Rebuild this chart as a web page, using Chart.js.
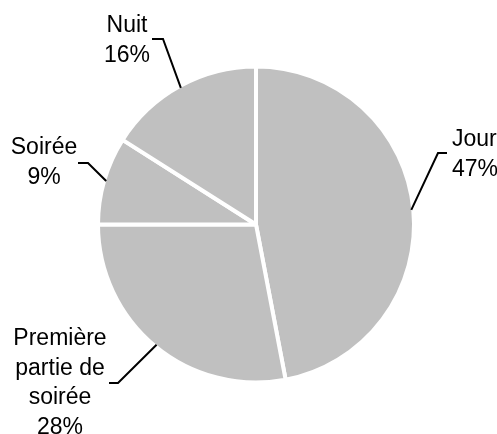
<!DOCTYPE html>
<html>
<head>
<meta charset="utf-8">
<script src="https://cdn.jsdelivr.net/npm/chart.js@4/dist/chart.umd.min.js"></script>
<style>
  html, body { margin: 0; padding: 0; background: #ffffff; }
  #wrap { width: 497px; height: 434px; position: relative; }
</style>
</head>
<body>
<div id="wrap"><canvas id="c" width="497" height="434"></canvas></div>
<script>
// Audience share by time slot
const categories = ['Jour', 'Première partie de soirée', 'Soirée', 'Nuit'];
const shares = [47, 28, 9, 16];
const labelLines = [
  ['Jour', '47%'],
  ['Première', 'partie de', 'soirée', '28%'],
  ['Soirée', '9%'],
  ['Nuit', '16%']
];

// Where each callout sits: text x, first baseline y, alignment, elbow and tail of the leader
const calloutLayout = [
  { x: 452, y: 146, align: 'left',   elbow: [438, 153], tail: [447, 153] },
  { x: 60,  y: 345, align: 'center', elbow: [118, 383], tail: [109, 383] },
  { x: 44,  y: 154, align: 'center', elbow: [88, 163],  tail: [78, 163] },
  { x: 127, y: 32,  align: 'center', elbow: [163, 39],  tail: [152, 39] }
];

const FONT = '23px "Liberation Sans", Arial, sans-serif';
const LINE_H = 29.5;

const callouts = {
  id: 'callouts',
  afterDraw(chart) {
    const ctx = chart.ctx;
    const arcs = chart.getDatasetMeta(0).data;
    ctx.save();
    ctx.strokeStyle = '#000000';
    ctx.lineWidth = 2;
    ctx.lineCap = 'butt';
    ctx.lineJoin = 'miter';
    arcs.forEach((arc, i) => {
      const L = calloutLayout[i];
      const p = arc.getProps(['x', 'y', 'startAngle', 'endAngle', 'outerRadius'], true);
      const mid = (p.startAngle + p.endAngle) / 2;
      const ex = p.x + Math.cos(mid) * (p.outerRadius - 2);
      const ey = p.y + Math.sin(mid) * (p.outerRadius - 2);
      ctx.beginPath();
      ctx.moveTo(L.tail[0], L.tail[1]);
      ctx.lineTo(L.elbow[0], L.elbow[1]);
      ctx.lineTo(ex, ey);
      ctx.stroke();

      ctx.fillStyle = '#000000';
      ctx.font = FONT;
      ctx.textAlign = L.align;
      ctx.textBaseline = 'alphabetic';
      labelLines[i].forEach((t, k) => {
        ctx.fillText(t, L.x, L.y + k * LINE_H);
      });
    });
    ctx.restore();
  }
};

new Chart(document.getElementById('c'), {
  type: 'pie',
  data: {
    labels: categories,
    datasets: [{
      data: shares,
      backgroundColor: '#C0C0C0',
      borderColor: '#FFFFFF',
      borderWidth: 4,
      hoverOffset: 0
    }]
  },
  options: {
    responsive: false,
    animation: false,
    devicePixelRatio: 1,
    layout: { padding: { left: 96, right: 81, top: 64.5, bottom: 49.5 } },
    plugins: {
      legend: { display: false },
      tooltip: { enabled: false },
      title: { display: false }
    },
    events: []
  },
  plugins: [callouts]
});
</script>
</body>
</html>
